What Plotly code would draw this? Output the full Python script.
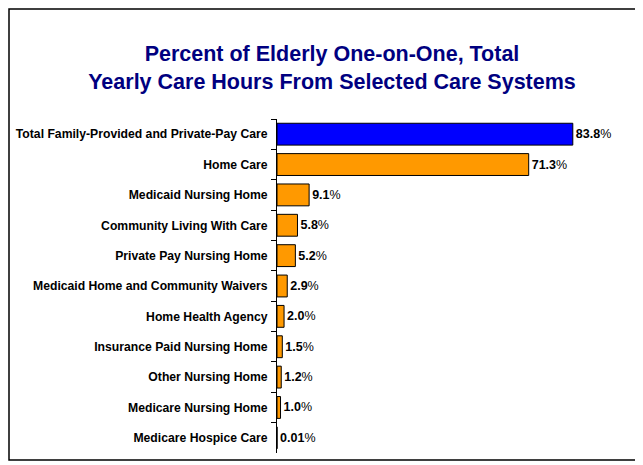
import plotly.graph_objects as go

# care systems, top to bottom
categories = [
    "Total Family-Provided and Private-Pay Care",
    "Home Care",
    "Medicaid Nursing Home",
    "Community Living With Care",
    "Private Pay Nursing Home",
    "Medicaid Home and Community Waivers",
    "Home Health Agency",
    "Insurance Paid Nursing Home",
    "Other Nursing Home",
    "Medicare Nursing Home",
    "Medicare Hospice Care",
]
percents = [83.8, 71.3, 9.1, 5.8, 5.2, 2.9, 2.0, 1.5, 1.2, 1.0, 0.01]
value_labels = ["83.8", "71.3", "9.1", "5.8", "5.2", "2.9", "2.0", "1.5", "1.2", "1.0", "0.01"]

# page body has an 8px margin, so the figure is a bit smaller and shifted
OFF = 8
W, H = 643 - OFF, 465 - OFF
L, T = 277 - OFF, 119 - OFF
R = W - (L + 353)
B = H - (453 - OFF)
FONT = "Arial, Liberation Sans, sans-serif"

bar_colors = ["#0000FF"] + ["#FF9900"] * (len(categories) - 1)

fig = go.Figure(go.Bar(
    x=percents,
    y=categories,
    orientation="h",
    marker=dict(color=bar_colors, line=dict(color="black", width=1)),
    text=[f"<b>{v}</b>%" for v in value_labels],
    textposition="outside",
    textfont=dict(family=FONT, size=12.5, color="black"),
    cliponaxis=False,
))

fig.update_yaxes(autorange="reversed", automargin=False,
                 showline=True, linecolor="black", linewidth=1,
                 ticks="outside", tickson="boundaries", ticklen=5, tickcolor="black",
                 ticklabelstandoff=6,
                 tickfont=dict(family=FONT, size=12.2, color="black", weight="bold"),
                 showgrid=False, zeroline=False)
fig.update_xaxes(range=[0, 100], visible=False, showgrid=False, automargin=False)


def px_x(p):
    return (p - L) / (W - L - R)


def px_y(p):
    return 1 - (p - T) / (H - T - B)


fig.update_layout(
    width=W, height=H,
    margin=dict(l=L, r=R, t=T, b=B),
    paper_bgcolor="white", plot_bgcolor="white",
    bargap=0.28,
    showlegend=False,
    title=dict(text="Percent of Elderly One-on-One, Total<br>Yearly Care Hours From Selected Care Systems",
               x=(332 - OFF) / W, xanchor="center", xref="container",
               y=1 - (61 - OFF) / H, yanchor="middle", yref="container",
               font=dict(family=FONT, size=21.5, color="#000080", weight="bold")),
    shapes=[dict(type="rect", xref="paper", yref="paper",
                 x0=px_x(1), x1=px_x(637 - OFF), y0=px_y(460 - OFF), y1=px_y(1),
                 line=dict(color="black", width=1.5), layer="above")],
)

fig.write_html("out.html")
